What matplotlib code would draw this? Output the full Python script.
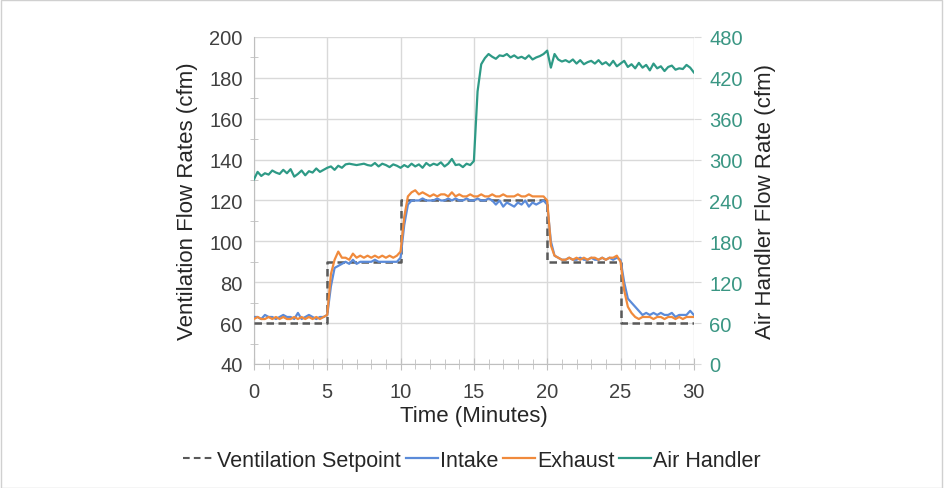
import matplotlib
matplotlib.use("Agg")
import matplotlib.pyplot as plt
from matplotlib.lines import Line2D
from matplotlib.patches import Rectangle
import numpy as np

plt.rcParams['font.family'] = ['Liberation Sans', 'DejaVu Sans']

# ---- data (time in minutes, 0.25 min steps) ----
time = np.arange(0, 30.001, 0.25)

setpoint_time = [0, 5, 5, 10, 10, 20, 20, 25, 25, 30]
setpoint_vals = [60, 60, 90, 90, 120, 120, 90, 90, 60, 60]

intake = [63, 63, 62, 64, 63, 63, 62, 63, 64, 63, 63, 62, 65, 62, 63, 64, 63, 62, 63, 63,
          64, 78, 87, 88, 89, 90, 89, 91, 89, 90, 90, 90, 90, 91, 90, 90, 90, 90, 90, 90,
          92, 108, 118, 120, 120, 120, 121, 120, 120, 120, 121, 120, 120, 121, 120, 121, 120, 120, 121, 120,
          120, 121, 120, 120, 121, 120, 118, 120, 117, 119, 118, 117, 119, 118, 120, 117, 119, 118, 119, 120,
          118, 100, 93, 92, 91, 91, 92, 91, 91, 92, 91, 91, 92, 91, 91, 92, 91, 92, 91, 92,
          91, 80, 72, 70, 68, 66, 64, 65, 64, 65, 64, 65, 64, 64, 65, 63, 64, 64, 64, 66, 64]

exhaust = [62, 63, 62, 62, 63, 62, 63, 62, 63, 62, 62, 63, 62, 63, 62, 63, 62, 63, 62, 63,
           64, 84, 91, 95, 92, 92, 91, 94, 92, 93, 92, 93, 92, 93, 92, 93, 92, 93, 92, 93,
           95, 112, 122, 124, 125, 123, 124, 123, 122, 123, 122, 123, 123, 122, 124, 122, 123, 122, 122, 123,
           122, 122, 123, 122, 122, 123, 122, 122, 123, 122, 122, 122, 123, 122, 122, 123, 122, 122, 122, 122,
           120, 98, 93, 92, 91, 91, 92, 91, 92, 91, 92, 91, 92, 92, 91, 92, 91, 92, 92, 93,
           90, 76, 68, 65, 63, 62, 63, 63, 63, 62, 63, 63, 62, 63, 63, 62, 63, 62, 63, 63, 63]

air_handler = [271, 282, 276, 280, 278, 284, 281, 279, 285, 280, 286, 275, 279, 284, 277, 283, 281, 287, 282, 285,
               288, 290, 285, 291, 288, 293, 294, 293, 292, 293, 294, 292, 291, 295, 290, 294, 292, 289, 293, 291,
               288, 292, 289, 294, 290, 293, 288, 295, 291, 294, 292, 296, 290, 294, 301, 292, 293, 289, 294, 292,
               298, 400, 440, 449, 455, 451, 448, 453, 452, 455, 450, 453, 449, 451, 448, 453, 447, 450, 452, 455,
               460, 435, 455, 447, 444, 446, 443, 447, 441, 446, 440, 443, 445, 441, 446, 440, 443, 438, 445, 437,
               441, 445, 436, 440, 434, 442, 435, 439, 431, 441, 434, 437, 430, 436, 438, 432, 434, 433, 439, 435, 428]

x_ticks = [0, 5, 10, 15, 20, 25, 30]
left_ticks = [40, 60, 80, 100, 120, 140, 160, 180, 200]
right_ticks = [0, 60, 120, 180, 240, 300, 360, 420, 480]

# ---- styles ----
c_set = '#595959'
c_int = '#5B8BD9'
c_exh = '#F08A3C'
c_air = '#2E9A86'
c_tick_right = '#3A9683'
grid_c = '#D9D9D9'
fs = 14.5
fs_lab = 16
fs_leg = 15.5

fig = plt.figure(figsize=(9.44, 4.89), dpi=100)
fig.patches.append(Rectangle((0.001, 0.001), 0.997, 0.997, transform=fig.transFigure,
                             fill=False, edgecolor='#D0D0D0', linewidth=1.0))
ax = fig.add_axes([0.269, 0.2536, 0.466, 0.6687])
ax2 = ax.twinx()

ax.set_xlim(0, 30)
ax.set_ylim(40, 200)
ax2.set_ylim(0, 480)

ax.set_xticks(x_ticks)
ax.set_xticks(np.arange(0, 31, 1), minor=True)
ax.set_yticks(left_ticks)
ax.set_yticks(np.arange(50, 200, 20), minor=True)
ax2.set_yticks(right_ticks)

ax.grid(True, which='major', color=grid_c, linewidth=1.0)
ax.set_axisbelow(True)

for s in ['top', 'right']:
    ax.spines[s].set_visible(False)
for s in ['top', 'right', 'left', 'bottom']:
    ax2.spines[s].set_visible(False)
ax.spines['left'].set_color('#BFBFBF')
ax.spines['bottom'].set_color('#BFBFBF')

ax.tick_params(axis='both', which='both', direction='inout', colors='#BFBFBF',
               labelcolor='#404040', labelsize=fs)
ax.tick_params(axis='x', which='major', length=8, pad=9)
ax.tick_params(axis='x', which='minor', length=7)
ax.tick_params(axis='y', which='major', length=0, pad=8)
ax.tick_params(axis='y', which='minor', length=6)
ax2.tick_params(axis='y', which='major', length=5, direction='out', colors='#D9D9D9',
                labelcolor=c_tick_right, labelsize=fs, pad=6)

ax.plot(setpoint_time, setpoint_vals, color=c_set, linestyle=(0, (3, 1.8)), linewidth=1.8, zorder=3)
ax.plot(time, intake, color=c_int, linewidth=1.6, zorder=4)
ax.plot(time, exhaust, color=c_exh, linewidth=1.6, zorder=5)
ax2.plot(time, air_handler, color=c_air, linewidth=1.6)

ax.set_xlabel('Time (Minutes)', fontsize=fs_lab, color='#262626', labelpad=3)
ax.set_ylabel('Ventilation Flow Rates (cfm)', fontsize=fs_lab, color='#262626', labelpad=8)
ax2.set_ylabel('Air Handler Flow Rate (cfm)', fontsize=fs_lab, color='#262626', labelpad=9)

handles = [Line2D([], [], color=c_set, linestyle=(0, (3.2, 2.0)), linewidth=1.5),
           Line2D([], [], color=c_int, linewidth=1.6),
           Line2D([], [], color=c_exh, linewidth=1.6),
           Line2D([], [], color=c_air, linewidth=1.6)]
labels = ['Ventilation Setpoint', 'Intake', 'Exhaust', 'Air Handler']
fig.legend(handles, labels, loc='center', bbox_to_anchor=(0.5, 0.057), ncol=4, frameon=False,
           fontsize=fs_leg, handlelength=1.5, handletextpad=0.1, columnspacing=0.2,
           labelcolor='#262626')

fig.savefig('out.png', dpi=100)
